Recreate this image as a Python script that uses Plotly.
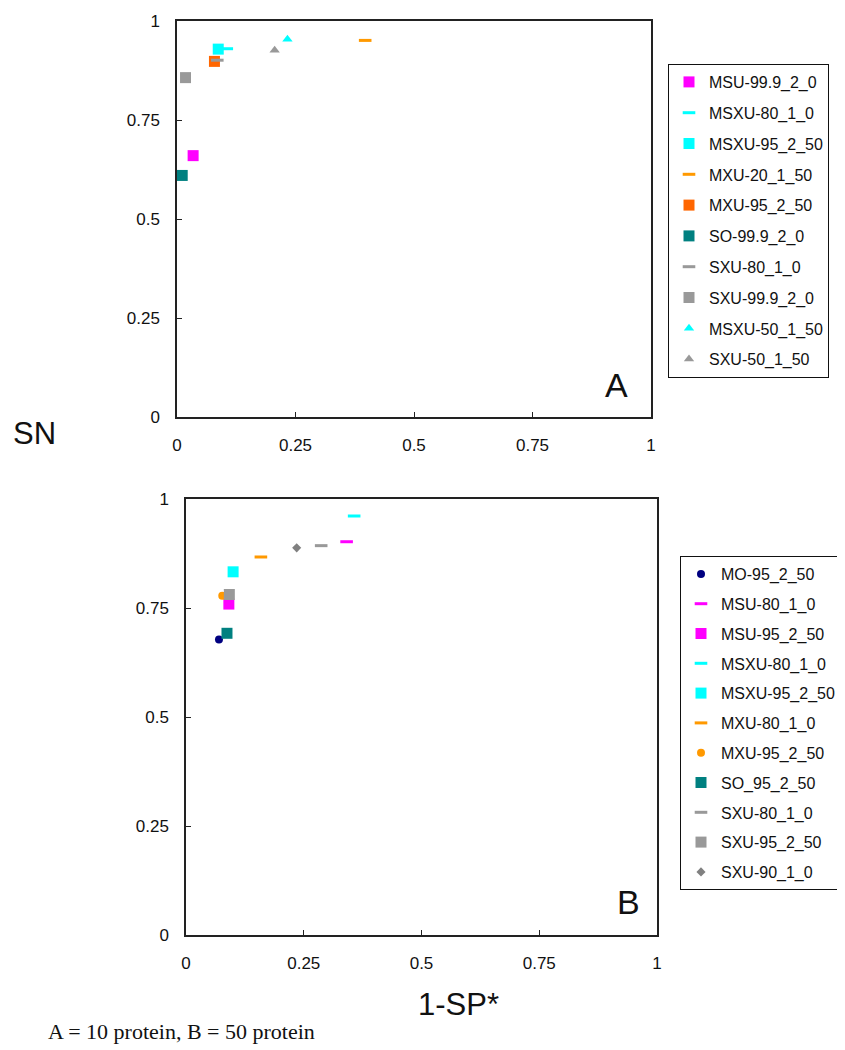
import plotly.graph_objects as go

# ---------- Panel A (10 protein) ----------
a_names = ["MSU-99.9_2_0", "MSXU-80_1_0", "MSXU-95_2_50", "MXU-20_1_50", "MXU-95_2_50",
           "SO-99.9_2_0", "SXU-80_1_0", "SXU-99.9_2_0", "MSXU-50_1_50", "SXU-50_1_50"]
a_x = [0.034, 0.105, 0.087, 0.397, 0.079, 0.011, 0.085, 0.018, 0.233, 0.206]
a_y = [0.660, 0.930, 0.929, 0.951, 0.898, 0.610, 0.901, 0.857, 0.954, 0.926]
a_colors = ["#FF00FF", "#00FFFF", "#00FFFF", "#FF9900", "#FF6600",
            "#008080", "#999999", "#999999", "#00FFFF", "#999999"]
a_symbols = ["square", "line-ew", "square", "line-ew", "square",
             "square", "line-ew", "square", "triangle-up", "triangle-up"]

# ---------- Panel B (50 protein) ----------
b_names = ["MO-95_2_50", "MSU-80_1_0", "MSU-95_2_50", "MSXU-80_1_0", "MSXU-95_2_50",
           "MXU-80_1_0", "MXU-95_2_50", "SO_95_2_50", "SXU-80_1_0", "SXU-95_2_50", "SXU-90_1_0"]
b_x = [0.070, 0.341, 0.091, 0.357, 0.100, 0.159, 0.077, 0.087, 0.287, 0.092, 0.235]
b_y = [0.678, 0.902, 0.759, 0.961, 0.833, 0.867, 0.778, 0.692, 0.893, 0.781, 0.888]
b_colors = ["#000080", "#FF00FF", "#FF00FF", "#00FFFF", "#00FFFF",
            "#FF9900", "#FF9900", "#008080", "#999999", "#999999", "#808080"]
b_symbols = ["circle", "line-ew", "square", "line-ew", "square",
             "line-ew", "circle", "square", "line-ew", "square", "diamond"]

tick_vals = [0, 0.25, 0.5, 0.75, 1]
tick_text = ["0", "0.25", "0.5", "0.75", "1"]

W, H = 845, 1050
OFF = 8  # page body margin


def PX(x):
    return (x - OFF) / W


def PY(y):
    return 1 - (y - OFF) / H


def marker_for(sym, color):
    if sym == "line-ew":
        return dict(symbol=sym, size=9, color=color, line=dict(color=color, width=3))
    size = {"square": 11, "triangle-up": 9, "diamond": 7, "circle": 8}[sym]
    return dict(symbol=sym, size=size, color=color, line=dict(width=0))


fig = go.Figure()

for i, (n, x, y, c, s) in enumerate(zip(a_names, a_x, a_y, a_colors, a_symbols)):
    fig.add_trace(go.Scatter(x=[x], y=[y], mode="markers", name=n,
                             marker=marker_for(s, c), xaxis="x", yaxis="y",
                             legend="legend", legendgroup=f"a{i}"))

for i, (n, x, y, c, s) in enumerate(zip(b_names, b_x, b_y, b_colors, b_symbols)):
    fig.add_trace(go.Scatter(x=[x], y=[y], mode="markers", name=n,
                             marker=marker_for(s, c), xaxis="x2", yaxis="y2",
                             legend="legend2", legendgroup=f"b{i}"))

axis_common = dict(range=[0, 1], tickvals=tick_vals, ticktext=tick_text,
                   showgrid=False, zeroline=False, showline=True, mirror=True,
                   linecolor="#222222", linewidth=1.5, ticks="inside", ticklen=5,
                   tickcolor="#222222", automargin=False,
                   tickfont=dict(family="Liberation Sans, Arial", size=17, color="#111111"))
x_axis = dict(axis_common, ticklabelstandoff=12)
y_axis = dict(axis_common, ticklabelstandoff=12)

legend_font = dict(family="Liberation Sans, Arial", size=16, color="#111111")
sans = "Liberation Sans, Arial"

fig.update_layout(
    width=W, height=H,
    margin=dict(l=0, r=0, t=0, b=0, autoexpand=False),
    paper_bgcolor="white", plot_bgcolor="white",
    showlegend=True,
    xaxis=dict(domain=[PX(177), PX(651)], anchor="y", **x_axis),
    yaxis=dict(domain=[PY(417), PY(21)], anchor="x", **y_axis),
    xaxis2=dict(domain=[PX(186), PX(657)], anchor="y2", **x_axis),
    yaxis2=dict(domain=[PY(935), PY(499)], anchor="x2", **y_axis),
    legend=dict(x=PX(668), y=PY(64), xanchor="left", yanchor="top",
                bordercolor="#111111", borderwidth=1, bgcolor="white",
                font=legend_font, traceorder="grouped", tracegroupgap=7),
    legend2=dict(x=PX(680), y=PY(556), xanchor="left", yanchor="top",
                 bordercolor="#111111", borderwidth=1, bgcolor="white",
                 font=legend_font, traceorder="grouped", tracegroupgap=6),
    annotations=[
        dict(text="SN", x=PX(34), y=PY(433), xref="paper", yref="paper",
             xanchor="center", yanchor="middle", showarrow=False,
             font=dict(family=sans, size=31, color="#111111")),
        dict(text="1-SP*", x=PX(458), y=PY(1004), xref="paper", yref="paper",
             xanchor="center", yanchor="middle", showarrow=False,
             font=dict(family=sans, size=31, color="#111111")),
        dict(text="A", x=PX(616), y=PY(385), xref="paper", yref="paper",
             xanchor="center", yanchor="middle", showarrow=False,
             font=dict(family=sans, size=34, color="#111111")),
        dict(text="B", x=PX(628), y=PY(902), xref="paper", yref="paper",
             xanchor="center", yanchor="middle", showarrow=False,
             font=dict(family=sans, size=34, color="#111111")),
        dict(text="A = 10 protein, B = 50 protein", x=PX(46), y=PY(1031),
             xref="paper", yref="paper", xanchor="left", yanchor="middle", showarrow=False,
             font=dict(family="Liberation Serif, Times New Roman", size=22, color="#111111")),
    ],
)

fig.write_html("out.html")
